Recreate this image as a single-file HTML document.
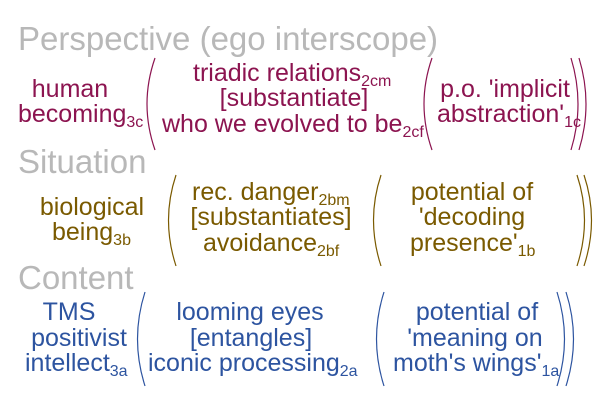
<!DOCTYPE html>
<html><head><meta charset="utf-8"><style>
html,body{margin:0;padding:0;background:#fff}
svg{display:block}
text{font-family:"Liberation Sans",Arial,sans-serif}
.h{fill:#b8b8b8;font-size:33px}
.m{fill:#8c1450;font-size:25px}
.o{fill:#7a5a00;font-size:25px}
.b{fill:#2d54a0;font-size:25px}
.s{font-size:16px}
path{fill:none;stroke-width:1.2}
</style></head><body>
<svg width="600" height="400" viewBox="0 0 600 400">
<text class="h" x="18" y="50">Perspective (ego interscope)</text>
<g class="m">
<text x="70" y="97" text-anchor="middle">human</text>
<text x="18" y="122">becoming<tspan class="s" dy="5">3c</tspan></text>
<text x="193" y="81">triadic relations<tspan class="s" dy="5">2cm</tspan></text>
<text x="294" y="106" text-anchor="middle">[substantiate]</text>
<text x="162" y="132">who we evolved to be<tspan class="s" dy="5">2cf</tspan></text>
<text x="505" y="97" text-anchor="middle">p.o. 'implicit</text>
<text x="437" y="122">abstraction'<tspan class="s" dy="5">1c</tspan></text>
</g>
<g stroke="#8c1450">
<path d="M155,58 Q139,104 155,150"/>
<path d="M432,58 Q416,104 432,150"/>
<path d="M571,58 Q585,104 571,150"/>
<path d="M579,58 Q593,104 579,150"/>
</g>

<text class="h" x="18" y="173">Situation</text>
<g class="o">
<text x="92" y="215" text-anchor="middle">biological</text>
<text x="52" y="240">being<tspan class="s" dy="5">3b</tspan></text>
<text x="192" y="200">rec. danger<tspan class="s" dy="5">2bm</tspan></text>
<text x="271" y="225" text-anchor="middle">[substantiates]</text>
<text x="203" y="251">avoidance<tspan class="s" dy="5">2bf</tspan></text>
<text x="472" y="200" text-anchor="middle">potential of</text>
<text x="472" y="225" text-anchor="middle">'decoding</text>
<text x="410" y="251">presence'<tspan class="s" dy="5">1b</tspan></text>
</g>
<g stroke="#7a5a00">
<path d="M176,175 Q161,220 176,266"/>
<path d="M381,175 Q366,220 381,266"/>
<path d="M577,175 Q592,220 577,266"/>
<path d="M584,175 Q599,220 584,266"/>
</g>

<text class="h" x="18" y="289">Content</text>
<g class="b">
<text x="69" y="320" text-anchor="middle">TMS</text>
<text x="79" y="346" text-anchor="middle">positivist</text>
<text x="25" y="371">intellect<tspan class="s" dy="5">3a</tspan></text>
<text x="250" y="320" text-anchor="middle">looming eyes</text>
<text x="251" y="346" text-anchor="middle">[entangles]</text>
<text x="148" y="371">iconic processing<tspan class="s" dy="5">2a</tspan></text>
<text x="477" y="320" text-anchor="middle">potential of</text>
<text x="475" y="346" text-anchor="middle">'meaning on</text>
<text x="393" y="371">moth's wings'<tspan class="s" dy="5">1a</tspan></text>
</g>
<g stroke="#2d54a0">
<path d="M145,292 Q130,339 145,386"/>
<path d="M384,292 Q369,339 384,386"/>
<path d="M557,292 Q572,339 557,386"/>
<path d="M566,292 Q581,339 566,386"/>
</g>
</svg>
</body></html>
